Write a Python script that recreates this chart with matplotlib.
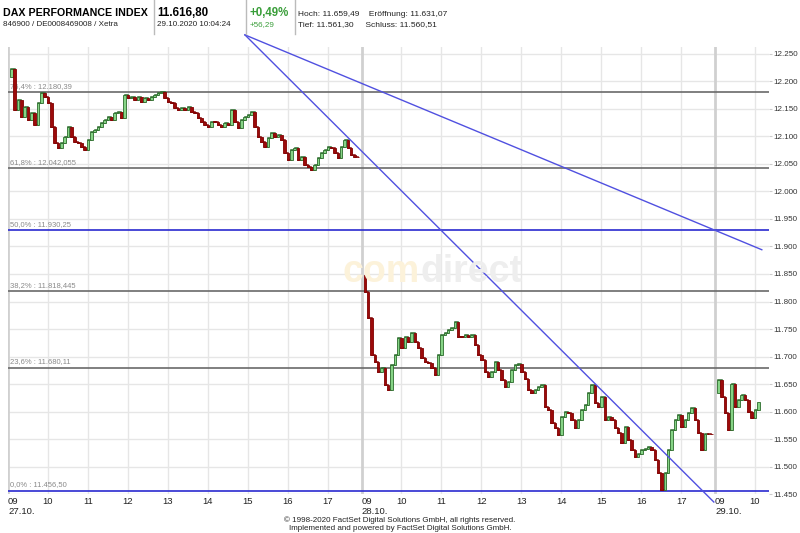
import matplotlib.pyplot as plt
from matplotlib.lines import Line2D

# x axis: trading hours since 27.10. 09:00, every day takes 8.84 h (09:00 - ~17:50)
day_len = 8.84
step_h = 5 / 60  # 5-minute bars

day0 = [12208, 12222, 12148, 12166, 12135, 12153, 12130, 12142, 12120, 12160,
        12179, 12172, 12160, 12117, 12088, 12079, 12088, 12099, 12117, 12099,
        12090, 12088, 12081, 12075, 12093, 12108, 12111, 12117, 12124, 12130,
        12135, 12130, 12142, 12144, 12133, 12175, 12170, 12172, 12166, 12172,
        12162, 12170, 12166, 12171, 12174, 12179, 12181, 12170, 12162, 12160,
        12151, 12148, 12151, 12148, 12153, 12144, 12142, 12133, 12126, 12120,
        12117, 12126, 12126, 12120, 12117, 12124, 12120, 12148, 12126, 12115,
        12130, 12135, 12139, 12144, 12117, 12099, 12090, 12081, 12097, 12106,
        12099, 12102, 12093, 12070, 12057, 12075, 12079, 12057, 12062, 12048,
        12044, 12039, 12048, 12060, 12070, 12075, 12081, 12079, 12070, 12060,
        12081, 12093, 12079, 12066, 12062, 12062]

day1 = [11849, 11818, 11770, 11703, 11691, 11672, 11679, 11648, 11639, 11685,
        11703, 11733, 11715, 11736, 11727, 11742, 11727, 11715, 11697, 11691,
        11688, 11679, 11666, 11703, 11739, 11742, 11748, 11751, 11763, 11736,
        11736, 11739, 11736, 11739, 11721, 11703, 11694, 11672, 11663, 11672,
        11691, 11676, 11657, 11645, 11654, 11676, 11685, 11686, 11672, 11660,
        11639, 11633, 11639, 11645, 11648, 11609, 11603, 11579, 11570, 11558,
        11591, 11600, 11597, 11585, 11570, 11585, 11603, 11612, 11633, 11648,
        11615, 11609, 11627, 11585, 11591, 11585, 11570, 11561, 11543, 11573,
        11549, 11530, 11518, 11524, 11530, 11533, 11536, 11530, 11512, 11488,
        11457, 11488, 11530, 11567, 11585, 11594, 11573, 11585, 11597, 11606,
        11585, 11561, 11530, 11559, 11559, 11559]

day2 = [11633, 11657, 11627, 11597, 11567, 11651, 11609, 11621, 11630, 11621,
        11600, 11588, 11603, 11617]

days = [day0, day1, day2]
day_names = ['27.10.', '28.10.', '29.10.']
last_hour = [17, 17, 10]

fib_levels = [12180.39, 12042.055, 11930.25, 11818.445, 11680.11, 11456.50]
fib_texts = ['76,4% : 12.180,39', '61,8% : 12.042,055', '50,0% : 11.930,25',
             '38,2% : 11.818,445', '23,6% : 11.680,11', '0,0% : 11.456,50']
fib_blue = [False, False, True, False, False, True]

trend_start = (5.925, 12284)
trend_ends = [(17.65, 11436), (18.85, 11894)]

y_ticks = list(range(11450, 12251, 50))

narrow = ['Liberation Sans Narrow', 'Liberation Sans', 'DejaVu Sans']
plt.rcParams['font.family'] = ['Liberation Sans', 'DejaVu Sans']

fig = plt.figure(figsize=(8, 5.33), dpi=100)
ax = fig.add_axes([0.01, 0.0726, 0.951, 0.8392])
ax.set_xlim(0, 19.025)
ax.set_ylim(11450, 12262)
for s in ax.spines.values():
    s.set_visible(False)

# grid
for y in y_ticks:
    ax.axhline(y, color='#e6e6e6', lw=1, zorder=0)
xt, xl = [], []
for d in range(3):
    for h in range(9, last_hour[d] + 1):
        x = d * day_len + (h - 9)
        if h == 9:
            ax.axvline(x, color='#d0d0d0', lw=2, zorder=0)
            xl.append('09\n' + day_names[d])
        else:
            ax.axvline(x, color='#e6e6e6', lw=1, zorder=0)
            xl.append(str(h))
        xt.append(x)

# watermark
fig.text(420 / 800, 1 - 272 / 533, 'com', ha='right', va='center', fontsize=27,
         fontweight='bold', color='#fcf2da', zorder=0)
fig.text(420 / 800, 1 - 272 / 533, 'direct', ha='left', va='center', fontsize=27,
         fontweight='bold', color='#eeeeee', zorder=0)

# fibonacci levels
for lev, txt, blue in zip(fib_levels, fib_texts, fib_blue):
    ax.axhline(lev, color='#2a2ad0' if blue else '#6a6a6a', lw=1.2, zorder=2)
    ax.text(0.05, lev + 4, txt, fontsize=5.5, color='#8a8a8a', va='bottom', ha='left', zorder=2)

# price bars
for d, vals in enumerate(days):
    x0 = d * day_len
    for i in range(1, len(vals)):
        o, c = vals[i - 1], vals[i]
        x = x0 + i * step_h
        h = c - o if abs(c - o) > 1 else 1
        up = c > o
        ax.bar(x, h, bottom=o, width=step_h * 0.75,
               color='#86d486' if up else '#9c0a0a',
               edgecolor='#2b6b2b' if up else '#800000', lw=0.6, zorder=3)
        # short link to the next bar so the series reads as one line
        if i < len(vals) - 1:
            ax.plot([x, x + step_h], [c, c], color='#2b6b2b' if up else '#800000',
                    lw=1.1, zorder=2.9)

# trend lines
for xe, ye in trend_ends:
    ax.add_line(Line2D([trend_start[0], xe], [trend_start[1], ye], color='#5050e0',
                       lw=1, clip_on=False, zorder=4))

# axes ticks
ax.yaxis.tick_right()
ax.set_yticks(y_ticks)
ax.set_yticklabels([f'{v / 1000:.3f}' for v in y_ticks])
ax.tick_params(axis='y', length=2, color='#cccccc', labelsize=5.8, labelcolor='#333333', pad=1)
ax.set_xticks(xt)
ax.set_xticklabels(xl)
ax.tick_params(axis='x', length=0, labelsize=6.8, labelcolor='#222222', pad=2)
for lab in ax.get_xticklabels():
    lab.set_family(narrow)
    if '\n' in lab.get_text():
        lab.set_ha('left')

# header
def px(x, y):
    return x / 800, 1 - y / 533

for xs in [154, 246, 295]:
    fig.add_artist(Line2D([xs / 800, xs / 800], [1, 1 - 34 / 533], color='#bbbbbb', lw=1))
fig.text(*px(3, 13), 'DAX PERFORMANCE INDEX', fontsize=7.7, fontweight='bold', va='center')
fig.text(*px(3, 25), '846900 / DE0008469008 / Xetra', fontsize=5.8, va='center', color='#222222')
fig.text(*px(157, 13), '11.616,80', fontsize=8.3, fontweight='bold', va='center')
fig.text(*px(157, 25), '29.10.2020 10:04:24', fontsize=5.8, va='center', color='#222222')
fig.text(*px(250, 13), '+0,49%', fontsize=8.3, fontweight='bold', va='center', color='#3a9e3a')
fig.text(*px(250, 25), '+56,29', fontsize=5.8, va='center', color='#3a9e3a')
fig.text(*px(298, 14), 'Hoch: 11.659,49    Eröffnung: 11.631,07', fontsize=6, va='center', color='#222222')
fig.text(*px(298, 25), 'Tief: 11.561,30     Schluss: 11.560,51', fontsize=6, va='center', color='#222222')

# footer
fig.text(*px(400, 520), '© 1998-2020 FactSet Digital Solutions GmbH, all rights reserved.',
         fontsize=5.8, ha='center', va='center', family=narrow, color='#222222')
fig.text(*px(400, 529), 'Implemented and powered by FactSet Digital Solutions GmbH.',
         fontsize=5.8, ha='center', va='center', family=narrow, color='#222222')

fig.savefig('out.png', dpi=100)
